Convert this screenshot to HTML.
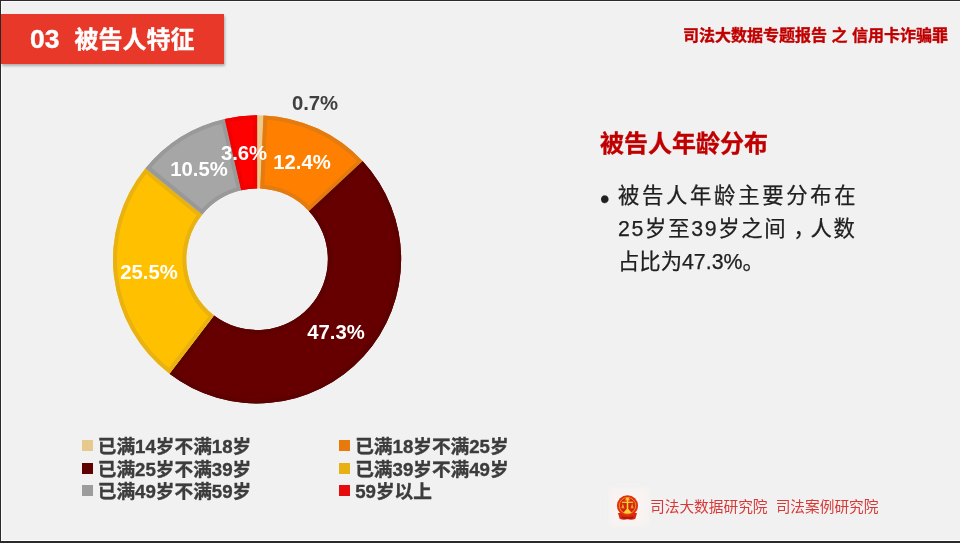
<!DOCTYPE html>
<html lang="zh-CN">
<head>
<meta charset="utf-8">
<title>被告人特征</title>
<style>
html,body{margin:0;padding:0;}
body{width:960px;height:543px;overflow:hidden;background:#f1f1f1;position:relative;
  font-family:"Liberation Sans","Noto Sans CJK SC",sans-serif;}
.abs{position:absolute;white-space:nowrap;}
.frame-top{left:0;top:0;width:960px;height:1px;background:#2b2b2b;}
.frame-top2{left:0;top:1px;width:960px;height:1px;background:#fafafa;}
.frame-left{left:0;top:0;width:1px;height:543px;background:#2b2b2b;}
.frame-bot{left:0;top:541px;width:960px;height:2px;background:#2b2b2b;}
.frame-bot2{left:0;top:540px;width:960px;height:1px;background:#ffffff;}
.banner{left:1px;top:14.2px;width:222.8px;height:49.5px;background:#e7382a;box-shadow:0.5px 1.5px 2.5px rgba(0,0,0,.28);}
.banner-t{left:31px;top:22.7px;font-size:24px;line-height:34px;font-weight:bold;color:#fff;-webkit-text-stroke:0.35px #fff;}
.hdr{left:683px;top:24.5px;-webkit-text-stroke:0.35px #c00000;font-size:16px;line-height:22px;font-weight:bold;color:#c00000;}
.donut{position:absolute;left:0;top:0;}
.pl{font-size:19.5px;line-height:24px;font-weight:bold;color:#fff;transform:translate(-50%,-50%) scaleX(1.04);}
.title{left:600px;top:126px;-webkit-text-stroke:0.3px #c00000;font-size:24px;line-height:36px;font-weight:bold;color:#c00000;}
.bt{font-size:21.33px;line-height:32px;color:#202020;-webkit-text-stroke:0.25px #202020;}
.lg{font-size:18.67px;line-height:24px;font-weight:bold;color:#3c3c3c;-webkit-text-stroke:0.35px #3c3c3c;margin-top:0.5px;}
.sw{width:11px;height:11px;}
.ft{left:650px;top:496px;font-size:14.7px;line-height:22px;color:#d63a38;font-weight:400;}
</style>
</head>
<body>
<div class="abs frame-top2"></div>
<div class="abs" style="left:1px;top:1px;width:1px;height:540px;background:#fafafa;"></div>
<div class="abs frame-bot2"></div>
<div class="abs frame-top"></div>
<div class="abs frame-bot"></div>
<div class="abs frame-left"></div>

<div class="abs banner"></div>
<div class="abs banner-t" style="left:30.3px;font-size:25px;transform-origin:0 50%;transform:scaleX(1.06);margin-top:-1.2px;">03</div>
<div class="abs banner-t" style="left:74.5px;">被告人特征</div>
<div class="abs hdr">司法大数据专题报告 之 信用卡诈骗罪</div>

<svg class="donut" width="960" height="543" viewBox="0 0 960 543"><defs><clipPath id="c0"><path d="M257.10 115.25A144.1 144.1 0 0 1 263.44 115.39L260.21 188.62A70.8 70.8 0 0 0 257.10 188.55Z"/></clipPath><clipPath id="c1"><path d="M263.44 115.39A144.1 144.1 0 0 1 362.76 161.37L309.01 211.21A70.8 70.8 0 0 0 260.21 188.62Z"/></clipPath><clipPath id="c2"><path d="M362.76 161.37A144.1 144.1 0 0 1 169.50 373.76L214.06 315.56A70.8 70.8 0 0 0 309.01 211.21Z"/></clipPath><clipPath id="c3"><path d="M169.50 373.76A144.1 144.1 0 0 1 145.49 168.20L202.27 214.56A70.8 70.8 0 0 0 214.06 315.56Z"/></clipPath><clipPath id="c4"><path d="M145.49 168.20A144.1 144.1 0 0 1 224.78 118.92L241.22 190.35A70.8 70.8 0 0 0 202.27 214.56Z"/></clipPath><clipPath id="c5"><path d="M224.78 118.92A144.1 144.1 0 0 1 257.10 115.25L257.10 188.55A70.8 70.8 0 0 0 241.22 190.35Z"/></clipPath></defs><path d="M257.10 115.25A144.1 144.1 0 0 1 263.44 115.39L260.21 188.62A70.8 70.8 0 0 0 257.10 188.55Z" fill="#e9cb8f"/><path d="M263.44 115.39A144.1 144.1 0 0 1 362.76 161.37L309.01 211.21A70.8 70.8 0 0 0 260.21 188.62Z" fill="#ff8000"/><path d="M263.44 115.39A144.1 144.1 0 0 1 362.76 161.37L309.01 211.21A70.8 70.8 0 0 0 260.21 188.62Z" fill="none" stroke="#e47b10" stroke-width="8" stroke-linejoin="miter" clip-path="url(#c1)"/><path d="M362.76 161.37A144.1 144.1 0 0 1 169.50 373.76L214.06 315.56A70.8 70.8 0 0 0 309.01 211.21Z" fill="#660000"/><path d="M362.76 161.37A144.1 144.1 0 0 1 169.50 373.76L214.06 315.56A70.8 70.8 0 0 0 309.01 211.21Z" fill="none" stroke="#5c0000" stroke-width="8" stroke-linejoin="miter" clip-path="url(#c2)"/><path d="M169.50 373.76A144.1 144.1 0 0 1 145.49 168.20L202.27 214.56A70.8 70.8 0 0 0 214.06 315.56Z" fill="#ffc000"/><path d="M169.50 373.76A144.1 144.1 0 0 1 145.49 168.20L202.27 214.56A70.8 70.8 0 0 0 214.06 315.56Z" fill="none" stroke="#e8b212" stroke-width="8" stroke-linejoin="miter" clip-path="url(#c3)"/><path d="M145.49 168.20A144.1 144.1 0 0 1 224.78 118.92L241.22 190.35A70.8 70.8 0 0 0 202.27 214.56Z" fill="#a6a6a6"/><path d="M145.49 168.20A144.1 144.1 0 0 1 224.78 118.92L241.22 190.35A70.8 70.8 0 0 0 202.27 214.56Z" fill="none" stroke="#999999" stroke-width="8" stroke-linejoin="miter" clip-path="url(#c4)"/><path d="M224.78 118.92A144.1 144.1 0 0 1 257.10 115.25L257.10 188.55A70.8 70.8 0 0 0 241.22 190.35Z" fill="#ff0000"/><path d="M224.78 118.92A144.1 144.1 0 0 1 257.10 115.25L257.10 188.55A70.8 70.8 0 0 0 241.22 190.35Z" fill="none" stroke="#f00000" stroke-width="8" stroke-linejoin="miter" clip-path="url(#c5)"/></svg>

<div class="abs pl" style="left:314.5px;top:102.7px;color:#404040;">0.7%</div>
<div class="abs pl" style="left:301.7px;top:162.2px;">12.4%</div>
<div class="abs pl" style="left:335.6px;top:332.2px;">47.3%</div>
<div class="abs pl" style="left:149.2px;top:272.0px;">25.5%</div>
<div class="abs pl" style="left:199.3px;top:168.8px;">10.5%</div>
<div class="abs pl" style="left:243.8px;top:152.8px;">3.6%</div>

<div class="abs sw" style="left:82.2px;top:439.7px;background:#e7c98d;"></div>
<div class="abs lg" style="left:97.8px;top:434.3px;">已满14岁不满18岁</div>
<div class="abs sw" style="left:82.2px;top:462.8px;background:#600000;"></div>
<div class="abs lg" style="left:97.8px;top:457.3px;">已满25岁不满39岁</div>
<div class="abs sw" style="left:82.2px;top:485.3px;background:#9c9c9c;"></div>
<div class="abs lg" style="left:97.8px;top:479.8px;">已满49岁不满59岁</div>
<div class="abs sw" style="left:339.4px;top:439.7px;background:#e87a0c;"></div>
<div class="abs lg" style="left:355.2px;top:434.3px;">已满18岁不满25岁</div>
<div class="abs sw" style="left:339.4px;top:462.8px;background:#e8b010;"></div>
<div class="abs lg" style="left:355.2px;top:457.3px;">已满39岁不满49岁</div>
<div class="abs sw" style="left:339.4px;top:485.3px;background:#e40c0c;"></div>
<div class="abs lg" style="left:355.2px;top:479.8px;">59岁以上</div>

<div class="abs title">被告人年龄分布</div>
<div class="abs bt" style="left:600px;top:183px;font-size:27px;">•</div>
<div class="abs bt" style="left:618px;top:180px;letter-spacing:2.7px;">被告人年龄主要分布在</div>
<div class="abs bt" style="left:618px;top:213px;letter-spacing:1.7px;">25岁至39岁之间<span style="position:relative;left:6px;">，</span>人数</div>
<div class="abs bt" style="left:618px;top:246px;">占比为47.3%。</div>

<div class="abs" style="left:609px;top:488px;width:40px;height:38px;background:rgba(255,246,242,.55);filter:blur(3px);"></div>
<svg class="abs" style="left:611.9px;top:490.5px;" width="31" height="33.07" viewBox="-15 -14.2 30 32">
<defs><clipPath id="lc"><circle cx="0" cy="0" r="7.6"/></clipPath><filter id="lb" x="-20%" y="-20%" width="140%" height="140%"><feGaussianBlur stdDeviation="0.45"/></filter></defs>
<g filter="url(#lb)">
<path d="M-9.2 7.2 L-7.6 12.6 Q-4.5 14.4 0 13.2 Q4.5 14.4 7.6 12.6 L9.2 7.2 Z" fill="#dc260c"/>
<path d="M-5.6 11.2 Q0 12.8 5.6 11.2" fill="none" stroke="#a81408" stroke-width="1.3"/>
<circle cx="0" cy="0" r="10.2" fill="#e0300e"/>
<circle cx="0" cy="0" r="7.9" fill="#d4260a" stroke="#f09a28" stroke-width="0.9"/>
<g clip-path="url(#lc)">
<polygon points="0,2.6 -6.2,9 6.2,9" fill="#ffd036"/>
<polygon points="-4.5,-2.4 -6,2.4 -3,2.4" fill="#f0a030"/>
<polygon points="4.5,-2.4 6,2.4 3,2.4" fill="#f0a030"/>
<rect x="-5.4" y="-3.9" width="10.8" height="1.3" fill="#fbc034"/>
<rect x="-0.75" y="-8" width="1.5" height="13" fill="#ffd23a"/>
<rect x="-2.2" y="-6.3" width="4.4" height="1.2" fill="#fbc034"/>
<circle cx="0" cy="-7.2" r="1.3" fill="#ffd23a"/>
</g>
</g>
</svg>

<div class="abs ft">司法大数据研究院&nbsp; 司法案例研究院</div>
</body>
</html>
